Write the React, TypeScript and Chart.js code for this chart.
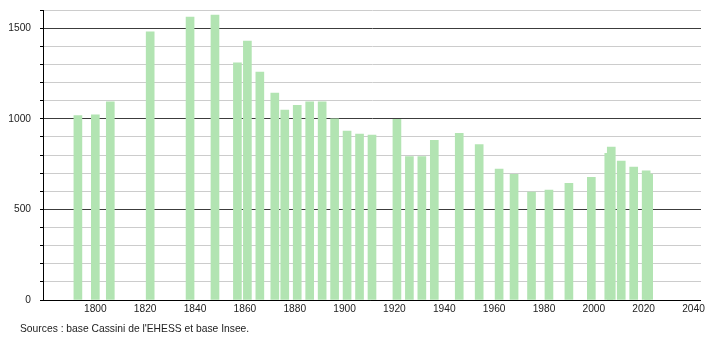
import React, { useEffect, useRef } from "react";
import { Chart, registerables } from "chart.js";

Chart.register(...registerables);

const years = [1793, 1800, 1806, 1822, 1838, 1848, 1857, 1861, 1866, 1872, 1876, 1881, 1886, 1891, 1896, 1901, 1906, 1911, 1921, 1926, 1931, 1936, 1946, 1954, 1962, 1968, 1975, 1982, 1990, 1999, 2006, 2007, 2011, 2016, 2021, 2022];
const population = [1017, 1021, 1094, 1479, 1561, 1572, 1308, 1429, 1258, 1142, 1048, 1074, 1094, 1094, 999, 932, 916, 910, 997, 791, 791, 881, 920, 857, 723, 694, 596, 607, 644, 677, 809, 844, 767, 734, 712, 695];
const xTicks = [1800, 1820, 1840, 1860, 1880, 1900, 1920, 1940, 1960, 1980, 2000, 2020, 2040];
const yLabelled = [0, 500, 1000, 1500];
const sourceText = "Sources : base Cassini de l'EHESS et base Insee.";

export default function App() {
  const ref = useRef<HTMLCanvasElement | null>(null);

  useEffect(() => {
    document.body.style.margin = "0";
    const canvas = ref.current;
    if (!canvas) return;
    const font = { family: "'Liberation Sans', Arial, sans-serif", size: 10.2 };
    const chart = new Chart(canvas, {
      type: "bar",
      data: {
        datasets: [
          {
            data: years.map((y, i) => ({ x: y, y: population[i] })),
            backgroundColor: "rgb(178,228,178)",
            borderWidth: 0,
            barThickness: 8,
          },
        ],
      },
      options: {
        animation: false,
        responsive: false,
        maintainAspectRatio: false,
        layout: { padding: { left: 0, right: 9, top: 10, bottom: 0 } },
        plugins: { legend: { display: false }, tooltip: { enabled: false } },
        scales: {
          x: {
            type: "linear",
            min: 1779,
            max: 2043,
            offset: false,
            grid: { display: false, drawTicks: false },
            border: { display: false },
            ticks: {
              autoSkip: false,
              maxRotation: 0,
              color: "#222",
              font,
              padding: 3,
              callback: (v: any) => String(v),
            },
            afterBuildTicks: (scale: any) => {
              scale.ticks = xTicks.map((v) => ({ value: v }));
            },
            afterFit: (scale: any) => {
              scale.height = 40;
              scale.paddingLeft = 0;
              scale.paddingRight = 0;
            },
          },
          y: {
            min: 0,
            max: 1600,
            grid: {
              color: (ctx: any) =>
                ctx.tick && ctx.tick.value % 500 === 0 ? "#3c3c3c" : "#cccccc",
              tickColor: "#000",
              tickLength: 3,
              lineWidth: 1,
            },
            border: { display: true, color: "#000", width: 1 },
            ticks: {
              stepSize: 100,
              autoSkip: false,
              color: "#222",
              font,
              padding: 9,
              callback: (v: any) => (yLabelled.includes(Number(v)) ? String(v) : ""),
            },
            afterFit: (scale: any) => {
              scale.width = 43;
              scale.paddingTop = 0;
              scale.paddingBottom = 0;
            },
          },
        },
      },
      plugins: [
        {
          id: "xAxisLine",
          afterDraw: (c: any) => {
            const { ctx, chartArea } = c;
            const y0 = c.scales.y.getPixelForValue(0);
            ctx.save();
            ctx.strokeStyle = "#000";
            ctx.lineWidth = 1;
            ctx.beginPath();
            ctx.moveTo(chartArea.left - 3, Math.round(y0) + 0.5);
            ctx.lineTo(chartArea.right, Math.round(y0) + 0.5);
            ctx.stroke();
            ctx.restore();
          },
        },
      ],
    });
    return () => chart.destroy();
  }, []);

  return (
    <div style={{ position: "fixed", left: 0, top: 0, width: 710, height: 340, background: "#fff" }}>
      <canvas ref={ref} width={710} height={340} style={{ display: "block", width: 710, height: 340 }} />
      <div
        style={{
          position: "absolute",
          left: 20,
          top: 323,
          fontFamily: "'Liberation Sans', Arial, sans-serif",
          fontSize: 10.3,
          color: "#222",
          lineHeight: "12px",
          whiteSpace: "nowrap",
        }}
      >
        {sourceText}
      </div>
    </div>
  );
}
